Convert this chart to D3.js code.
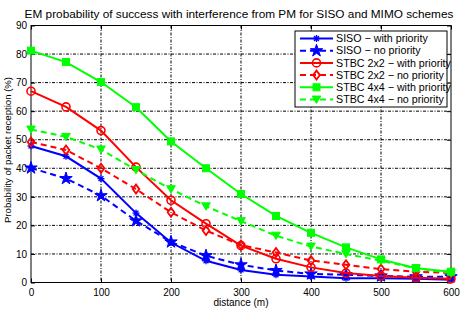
<!DOCTYPE html>
<html><head><meta charset="utf-8">
<script src="https://cdn.jsdelivr.net/npm/d3@7"></script>
<style>body{margin:0;background:#fff;}text{font-family:"Liberation Sans",Arial,sans-serif;}</style>
</head><body><svg id="c" width="462" height="321"></svg>
<script>
const distance = [0,50,100,150,200,250,300,350,400,450,500,550,600];
const sisoPrio   = [47.8,44.2,36.4,24.3,14.0,7.6,4.4,2.7,2.1,1.5,1.5,1.3,1.0];
const sisoNo     = [40.1,36.4,30.4,21.6,14.2,9.4,6.2,4.2,3.0,2.7,2.3,2.0,2.0];
const stbc2Prio  = [67.0,61.5,53.2,40.4,28.8,20.6,12.9,8.3,5.3,3.3,2.3,1.7,1.3];
const stbc2No    = [49.2,46.4,40.0,32.7,24.6,18.2,13.1,10.5,7.7,6.2,4.7,3.8,3.3];
const stbc4Prio  = [81.2,77.2,70.2,61.4,49.4,40.0,31.0,23.3,17.4,12.3,8.1,5.0,3.8];
const stbc4No    = [53.6,51.0,46.6,39.4,32.7,26.7,21.5,16.4,12.6,10.0,7.6,5.0,3.3];
const xTicks = [0,100,200,300,400,500,600];
const yTicks = [0,10,20,30,40,50,60,70,80,90];
const seriesNames = ["SISO \u2212 with priority","SISO \u2212 no priority","STBC 2x2 \u2212 with priority","STBC 2x2 \u2212 no priority","STBC 4x4 \u2212 with priority","STBC 4x4 \u2212 no priority"];
const seriesValues = [sisoPrio,sisoNo,stbc2Prio,stbc2No,stbc4Prio,stbc4No];
const seriesColors = ["#0000ff","#0000ff","#ff0000","#ff0000","#00ff00","#00ff00"];
const seriesDash = [false,true,false,true,false,true];
const seriesMarker = ["asterisk","star","circle","diamond","square","triangleDown"];

const svg = d3.select("#c");
const L=31, R=451, T=25.5, B=282.5;
const x = d3.scaleLinear().domain([0,600]).range([L,R]);
const y = d3.scaleLinear().domain([0,90]).range([B,T]);

// grid
const g = svg.append("g");
xTicks.forEach(t=>{ if(t>0&&t<600) g.append("line").attr("x1",x(t)).attr("x2",x(t)).attr("y1",T).attr("y2",B).attr("stroke","#000").attr("stroke-width",1).attr("stroke-dasharray","3,1.5,1,1.5");});
yTicks.forEach(t=>{ if(t>0&&t<90) g.append("line").attr("x1",L).attr("x2",R).attr("y1",y(t)).attr("y2",y(t)).attr("stroke","#000").attr("stroke-width",1).attr("stroke-dasharray","3,1.5,1,1.5");});

// axes
const xa = svg.append("g").attr("transform",`translate(0,${B})`).call(d3.axisBottom(x).tickValues(xTicks).tickSizeInner(-4).tickSizeOuter(0).tickPadding(6));
const xt = svg.append("g").attr("transform",`translate(0,${T})`).call(d3.axisTop(x).tickValues(xTicks).tickSizeInner(-4).tickSizeOuter(0).tickFormat(""));
const ya = svg.append("g").attr("transform",`translate(${L},0)`).call(d3.axisLeft(y).tickValues(yTicks).tickSizeInner(-4).tickSizeOuter(0).tickPadding(4));
const yr = svg.append("g").attr("transform",`translate(${R},0)`).call(d3.axisRight(y).tickValues(yTicks).tickSizeInner(-4).tickSizeOuter(0).tickFormat(""));
[xa,xt,ya,yr].forEach(a=>{a.select(".domain").remove(); a.selectAll("line").attr("stroke","#000"); a.selectAll("text").attr("font-size",10).attr("fill","#000").attr("font-family","Liberation Sans, Arial, sans-serif");});
svg.append("rect").attr("x",L).attr("y",T).attr("width",R-L).attr("height",B-T).attr("fill","none").attr("stroke","#000").attr("stroke-width",1);

// labels
svg.append("text").attr("x",239).attr("y",18).attr("text-anchor","middle").attr("font-size",11.8).text("EM probability of success with interference from PM for SISO and MIMO schemes");
svg.append("text").attr("x",241).attr("y",305.5).attr("text-anchor","middle").attr("font-size",10).text("distance (m)");
svg.append("text").attr("transform",`translate(10.5,150) rotate(-90)`).attr("text-anchor","middle").attr("font-size",9.6).text("Probability of packet reception (%)");

function drawMarker(sel, type, cx, cy, color){
  if(type==="asterisk"){
    const s=3.5;
    sel.append("path").attr("d",`M${cx-s},${cy}L${cx+s},${cy}M${cx},${cy-s}L${cx},${cy+s}M${cx-s*0.7},${cy-s*0.7}L${cx+s*0.7},${cy+s*0.7}M${cx-s*0.7},${cy+s*0.7}L${cx+s*0.7},${cy-s*0.7}`).attr("stroke",color).attr("stroke-width",1.3).attr("fill","none");
  } else if(type==="star"){
    sel.append("path").attr("d",d3.symbol(d3.symbolStar,48)()).attr("transform",`translate(${cx},${cy})`).attr("fill",color).attr("stroke",color).attr("stroke-width",1);
  } else if(type==="circle"){
    sel.append("circle").attr("cx",cx).attr("cy",cy).attr("r",4).attr("fill","none").attr("stroke",color).attr("stroke-width",1.6);
  } else if(type==="diamond"){
    const s=4.5;
    sel.append("path").attr("d",`M${cx},${cy-s}L${cx+s*0.75},${cy}L${cx},${cy+s}L${cx-s*0.75},${cy}Z`).attr("fill","none").attr("stroke",color).attr("stroke-width",1.8);
  } else if(type==="square"){
    sel.append("rect").attr("x",cx-3.5).attr("y",cy-3.5).attr("width",7).attr("height",7).attr("fill",color).attr("stroke",color);
  } else if(type==="triangleDown"){
    const s=4.3;
    sel.append("path").attr("d",`M${cx-s},${cy-s*0.8}L${cx+s},${cy-s*0.8}L${cx},${cy+s*0.9}Z`).attr("fill",color).attr("stroke",color).attr("stroke-width",1);
  }
}

const line = d3.line().x((d,i)=>x(distance[i])).y(d=>y(d));
const plot = svg.append("g");
const order=[0,1,2,3,4,5];
order.forEach(k=>{
  plot.append("path").attr("d",line(seriesValues[k])).attr("fill","none").attr("stroke",seriesColors[k]).attr("stroke-width",2).attr("stroke-dasharray",seriesDash[k]?"6,4":null);
  seriesValues[k].forEach((v,i)=>drawMarker(plot, seriesMarker[k], x(distance[i]), y(v), seriesColors[k]));
});

// legend
const lg = svg.append("g");
lg.append("rect").attr("x",295).attr("y",31).attr("width",152).attr("height",76).attr("fill","#fff").attr("stroke","#000").attr("stroke-width",1);
seriesNames.forEach((n,k)=>{
  const yy = 38.5 + k*12.2;
  lg.append("line").attr("x1",300).attr("x2",333).attr("y1",yy).attr("y2",yy).attr("stroke",seriesColors[k]).attr("stroke-width",2).attr("stroke-dasharray",seriesDash[k]?"6,4":null);
  drawMarker(lg, seriesMarker[k], 316.5, yy, seriesColors[k]);
  lg.append("text").attr("x",336).attr("y",yy+3.7).attr("font-size",10.7).text(n);
});
</script></body></html>
